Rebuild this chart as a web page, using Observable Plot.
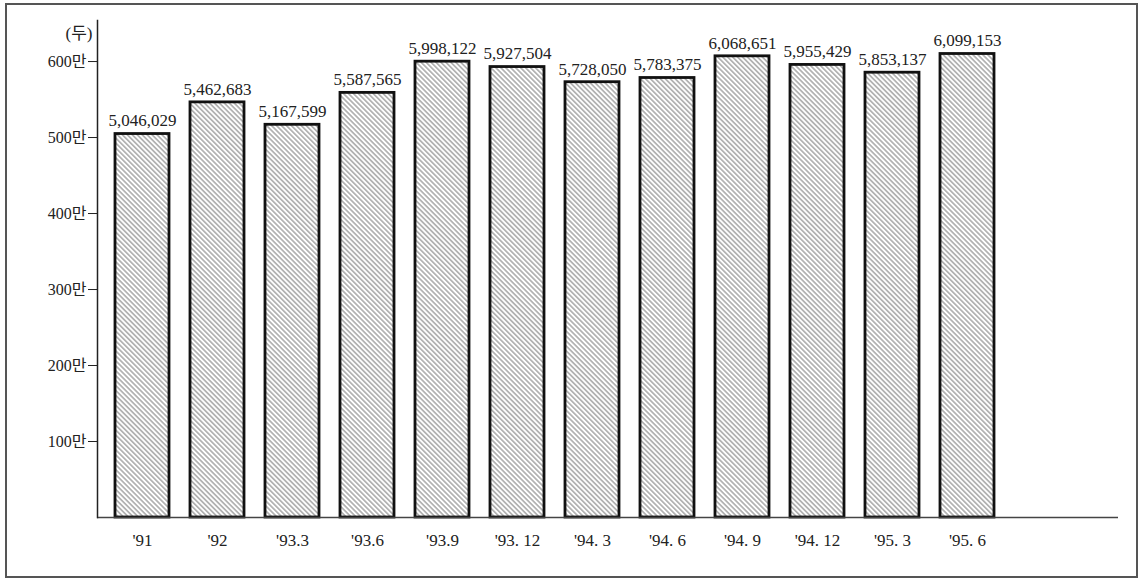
<!DOCTYPE html>
<html><head><meta charset="utf-8">
<script src="https://cdn.jsdelivr.net/npm/d3@7"></script>
<script src="https://cdn.jsdelivr.net/npm/@observablehq/plot@0.6"></script>
<style>
body{margin:0;background:#fff;}
#wrap{position:relative;width:1142px;height:583px;overflow:hidden;}
#border{position:absolute;left:5px;top:3px;width:1133px;height:575px;border:2px solid #555;box-sizing:border-box;pointer-events:none;}
#wrap svg{position:absolute;left:0;top:0;}
</style></head>
<body><div id="wrap"><div id="border"></div></div>
<script>
const periods = ["'91","'92","'93.3","'93.6","'93.9","'93. 12","'94. 3","'94. 6","'94. 9","'94. 12","'95. 3","'95. 6"];
const heads = [5046029,5462683,5167599,5587565,5998122,5927504,5728050,5783375,6068651,5955429,5853137,6099153];
const yTicks = [1000000,2000000,3000000,4000000,5000000,6000000];
const unitLabel = "(두)";
const data = periods.map((p,i)=>({period:p, value:heads[i]}));
const fmt = d3.format(",");
const chart = Plot.plot({
  width:1142, height:583, marginLeft:97, marginTop:20, marginBottom:66, marginRight:24,
  style:{fontFamily:"'Liberation Serif','Noto Sans CJK KR',serif", fontSize:"17px", color:"#222", background:"transparent"},
  x:{domain:periods, range:[91,1017], padding:0.28, axis:null},
  y:{domain:[0,6540000], axis:null},
  marks:[
    Plot.barY(data,{x:"period", y:"value", fill:"url(#hatch)", stroke:"#111", strokeWidth:2.8}),
    Plot.ruleY([0],{stroke:"#444", strokeWidth:1.5}),
    Plot.frame({anchor:"left", stroke:"#222", strokeWidth:1.5}),
    Plot.axisY(yTicks,{tickSize:9, tickPadding:2, tickFormat:d=>(d/10000)+"만", fontSize:16, label:null}),
    Plot.axisX({tickSize:0, tickPadding:16, fontSize:17, label:null}),
    Plot.text(data,{x:"period", y:"value", text:d=>fmt(d.value), dy:-13, fontSize:17}),
    Plot.text([unitLabel],{frameAnchor:"top-left", dx:-32, dy:6, fontSize:17})
  ]
});
d3.select(chart).insert("defs",":first-child").html(
  '<pattern id="hatch" patternUnits="userSpaceOnUse" width="3.5" height="3.5" patternTransform="rotate(-45)">' +
  '<rect width="3.5" height="3.5" fill="#fff"/>' +
  '<line x1="1.75" y1="-1" x2="1.75" y2="4.5" stroke="#858585" stroke-width="1.1"/></pattern>');
document.getElementById("wrap").appendChild(chart);
</script>
</body></html>
